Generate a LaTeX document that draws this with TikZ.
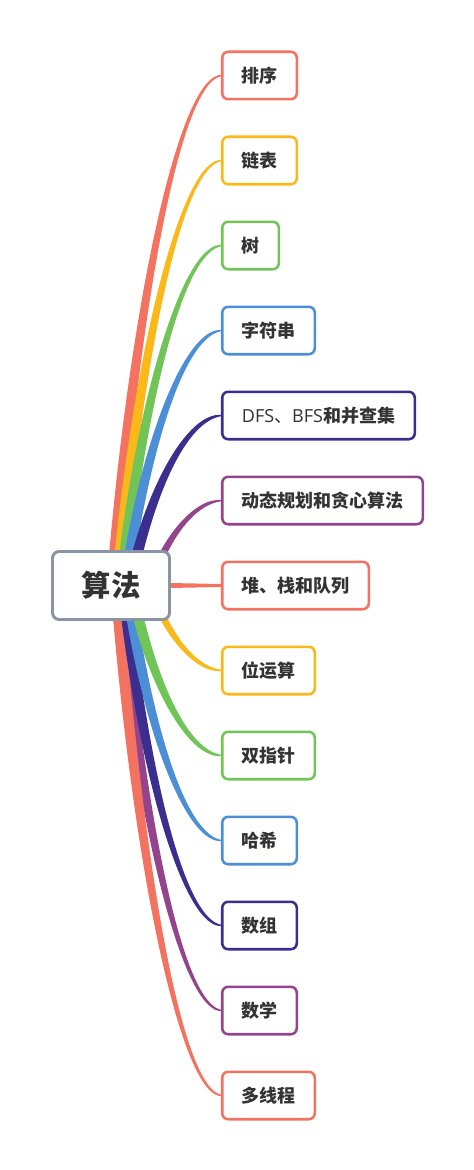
\documentclass[tikz,border=0pt]{standalone}
\usepackage{fontspec}
\usetikzlibrary{calc,backgrounds}
\newfontfamily\cjk{Noto Sans CJK SC}
\newfontfamily\latf{Open Sans}
\definecolor{cred}{RGB}{243,115,96}
\definecolor{corange}{RGB}{251,184,25}
\definecolor{cgreen}{RGB}{113,196,88}
\definecolor{cblue}{RGB}{77,143,215}
\definecolor{cdblue}{RGB}{58,46,143}
\definecolor{cpurple}{RGB}{148,68,140}
\definecolor{cgray}{RGB}{138,148,165}
\definecolor{ctext}{RGB}{51,51,51}
\tikzset{
  leaf/.style={draw=#1, fill=white, line width=1.9pt, rounded corners=4.5pt,
    minimum height=35.6pt, inner sep=0pt, text=ctext,
    font=\cjk\bfseries\fontsize{13.5}{16}\selectfont},
  rootbox/.style={draw=cgray, fill=white, line width=2.2pt, rounded corners=5pt,
    minimum width=87.75pt, minimum height=51pt, inner sep=0pt, text=ctext,
    font=\cjk\bfseries\fontsize{22}{26}\selectfont}
}
% #1 leaf, #2 colour, #3 start offset (px), #4 half width (pt), #5/#6 signs of end offsets
\newcommand{\brnch}[6]{%
  \fill[#2] let \p1=($(root.center)+(#3,0)$), \p2=($(#1.west)+(1pt,0)$) in
   ({\x1-#4},\y1) .. controls ({\x1+0.21*\x2-0.21*\x1-#4},{\y2+0.44*\y1-0.44*\y2})
     and ({\x1+0.62*\x2-0.62*\x1},{\y2 #5 0.85*#4}) .. (\x2,{\y2 #5 0.4pt})
   -- (\x2,{\y2 #6 0.4pt}) .. controls ({\x1+0.62*\x2-0.62*\x1},{\y2 #6 0.85*#4})
     and ({\x1+0.21*\x2-0.21*\x1+#4},{\y2+0.44*\y1-0.44*\y2}) .. ({\x1+#4},\y1) -- cycle;}
\begin{document}
\begin{tikzpicture}[x=0.75pt,y=-0.75pt]
\useasboundingbox (0,0) rectangle (474,1170);
\node[rootbox] (root) at (111,585.5) {算法};
\node[leaf=cred,    minimum width=55.9pt]  (n1)  at (259.5,75.5)  {排序};
\node[leaf=corange, minimum width=55.9pt]  (n2)  at (259.5,160.5) {链表};
\node[leaf=cgreen,  minimum width=42.4pt]  (n3)  at (250.5,245.5) {树};
\node[leaf=cblue,   minimum width=69.4pt]  (n4)  at (268.5,330.5) {字符串};
\node[leaf=cdblue,  minimum width=144.4pt] (n5)  at (318.5,415.5) {{\mdseries\latf DFS}{\mdseries 、}{\mdseries\latf BFS}和并查集};
\node[leaf=cpurple, minimum width=150.4pt] (n6)  at (322.5,500.5) {动态规划和贪心算法};
\node[leaf=cred,    minimum width=109.9pt] (n7)  at (295.5,585.5) {堆、栈和队列};
\node[leaf=corange, minimum width=69.4pt]  (n8)  at (268.5,670.5) {位运算};
\node[leaf=cgreen,  minimum width=69.4pt]  (n9)  at (268.5,755.5) {双指针};
\node[leaf=cblue,   minimum width=55.9pt]  (n10) at (259.5,840.5) {哈希};
\node[leaf=cdblue,  minimum width=55.9pt]  (n11) at (259.5,925.5) {数组};
\node[leaf=cpurple, minimum width=55.9pt]  (n12) at (259.5,1010.5) {数学};
\node[leaf=cred,    minimum width=69.4pt]  (n13) at (268.5,1095.5) {多线程};
\begin{scope}[on background layer]
\brnch{n1}{cred}{1}{4.2pt}{+}{-}
\brnch{n2}{corange}{6}{4.2pt}{+}{-}
\brnch{n3}{cgreen}{10}{4.2pt}{+}{-}
\brnch{n4}{cblue}{14}{4.2pt}{+}{-}
\brnch{n5}{cdblue}{19}{4.2pt}{+}{-}
\brnch{n6}{cpurple}{39}{3.2pt}{+}{-}
\brnch{n12}{cpurple}{8}{4.2pt}{-}{+}
\brnch{n13}{cred}{5}{4.2pt}{-}{+}
\brnch{n11}{cdblue}{12}{4.2pt}{-}{+}
\brnch{n10}{cblue}{16}{4.2pt}{-}{+}
\brnch{n9}{cgreen}{20}{4.2pt}{-}{+}
\brnch{n8}{corange}{39}{3.2pt}{-}{+}
\fill[cred] ($(root.east)+(-2pt,1.9pt)$) -- ($(n7.west)+(1pt,1.1pt)$)
  -- ($(n7.west)+(1pt,-1.1pt)$) -- ($(root.east)+(-2pt,-1.9pt)$) -- cycle;
\end{scope}
\end{tikzpicture}
\end{document}
